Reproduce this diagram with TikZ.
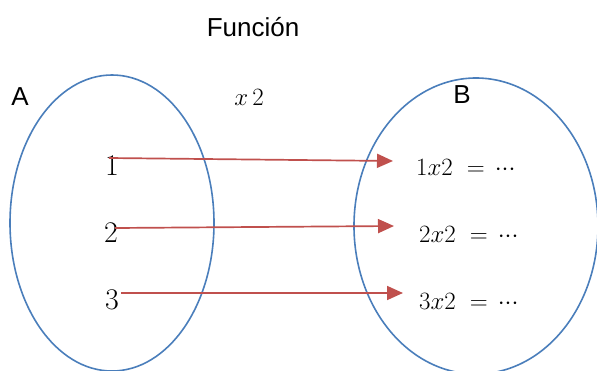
\documentclass[tikz,border=0pt]{standalone}
\usepackage{fontspec}
\newfontfamily\arialf{Liberation Sans}
\usetikzlibrary{arrows.meta}
\definecolor{setblue}{HTML}{4A7EBB}
\definecolor{arrred}{HTML}{C0504D}
\newcommand{\mydots}{{\cdotp}{\cdotp}{\cdotp}}
\tikzset{
  setline/.style={draw=setblue, line width=1.6pt},
  maparrow/.style={draw=arrred, line width=1.7pt, -{Triangle[length=16pt,width=14pt]}},
  sanslabel/.style={inner sep=0pt, font=\arialf\fontsize{26}{28}\selectfont},
  mathlabel/.style={inner sep=0pt, font=\fontsize{30}{32}\selectfont},
}
\begin{document}
\begin{tikzpicture}[x=1pt,y=-1pt]
\useasboundingbox (0,0) rectangle (597,370);
\clip (0,0) rectangle (597,370);
\path[setline] (112,223) ellipse [x radius=102, y radius=148];
\path[setline] (476,226) ellipse [x radius=122, y radius=148];
\node[sanslabel] (title) at (253,27) {Función};
\node[sanslabel] (lA) at (20,97) {A};
\node[sanslabel] (lB) at (462,95) {B};
\node[mathlabel] (op) at (249,97) {$x\,2$};
\node[mathlabel] (n1) at (112,166) {1};
\node[mathlabel] (n2) at (111,233) {2};
\node[mathlabel] (n3) at (112,300) {3};
\node[mathlabel, anchor=west] (r1) at (416,167) {$1x2\kern14pt{=}\kern10pt\mydots$};
\node[mathlabel, anchor=west] (r2) at (419,234) {$2x2\kern14pt{=}\kern10pt\mydots$};
\node[mathlabel, anchor=west] (r3) at (419,301) {$3x2\kern14pt{=}\kern10pt\mydots$};
\coordinate (s1) at (109,158);
\coordinate (t1) at (393,161);
\coordinate (s2) at (115,228);
\coordinate (t2) at (394,226);
\coordinate (s3) at (121,293);
\coordinate (t3) at (403,293);
\draw[maparrow] (s1) -- (t1);
\draw[maparrow] (s2) -- (t2);
\draw[maparrow] (s3) -- (t3);
\end{tikzpicture}
\end{document}
